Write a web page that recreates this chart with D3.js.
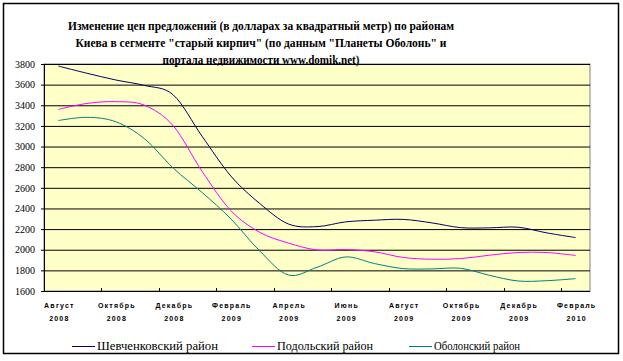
<!DOCTYPE html>
<html>
<head>
<meta charset="utf-8">
<script src="https://cdn.jsdelivr.net/npm/d3@7"></script>
<style>
  body { margin: 0; background: #fff; }
  svg { display: block; }
</style>
</head>
<body>
<div id="chart"></div>
<script>
// monthly categories, Aug 2008 .. Feb 2010
const months = ['Август', 'Сентябрь', 'Октябрь', 'Ноябрь', 'Декабрь', 'Январь', 'Февраль', 'Март', 'Апрель', 'Май',
    'Июнь', 'Июль', 'Август', 'Сентябрь', 'Октябрь', 'Ноябрь', 'Декабрь', 'Январь', 'Февраль'];
const years = ['2008', '2008', '2008', '2008', '2008', '2009', '2009', '2009', '2009', '2009',
    '2009', '2009', '2009', '2009', '2009', '2009', '2009', '2010', '2010'];
const shevchenko = [3780, 3710, 3645, 3592, 3500, 3100, 2715, 2450, 2250, 2224, 2270, 2286, 2294, 2260, 2214, 2212, 2218, 2163, 2118];
const podol = [3360, 3418, 3435, 3400, 3200, 2760, 2380, 2170, 2065, 1998, 2002, 1980, 1925, 1908, 1914, 1947, 1973, 1973, 1944];
const obolon = [3252, 3283, 3240, 3075, 2790, 2555, 2300, 1990, 1755, 1830, 1930, 1866, 1817, 1814, 1820, 1752, 1697, 1700, 1720];
const seriesNames = ['Шевченковский район', 'Подольский район', 'Оболонский район'];
const yTicks = [1600, 1800, 2000, 2200, 2400, 2600, 2800, 3000, 3200, 3400, 3600, 3800];
const titleLines = ['Изменение цен предложений (в долларах за квадратный метр) по районам',
    'Киева в сегменте "старый кирпич" (по данным "Планеты Оболонь" и',
    'портала недвижимости www.domik.net)'];

const w = 623, h = 361;
const pLeft = 44, pRight = 590, pTop = 64, pBottom = 291;
const colors = ['#000066', '#ff00ff', '#008080'];

const svg = d3.select('#chart').append('svg').attr('width', w).attr('height', h);

svg.append('rect').attr('x', 3.5).attr('y', 3.5).attr('width', 615).attr('height', 350)
    .attr('fill', '#fff').attr('stroke', '#000').attr('stroke-width', 1.5);

const xScale = d3.scaleBand().domain(d3.range(months.length)).range([pLeft, pRight]).padding(0);
const yScale = d3.scaleLinear().domain([1600, 3800]).range([pBottom, pTop]);
const cx = i => xScale(i) + xScale.bandwidth() / 2;

svg.append('rect').attr('x', pLeft).attr('y', pTop).attr('width', pRight - pLeft).attr('height', pBottom - pTop)
    .attr('fill', '#ffffc8').attr('stroke', '#808080').attr('stroke-width', 1);

// gridlines + y axis
const yAxis = d3.axisLeft(yScale).tickValues(yTicks).tickSize(-(pRight - pLeft)).tickPadding(8).tickFormat(d3.format('d'));
const gy = svg.append('g').attr('transform', 'translate(' + pLeft + ',0)').call(yAxis);
gy.select('.domain').remove();
gy.selectAll('.tick line').attr('stroke', '#000').attr('x1', -3);
gy.selectAll('.tick text').attr('font-family', '"Liberation Serif", "Times New Roman", serif')
    .attr('font-size', 10).attr('fill', '#000').attr('x', -9);

// x axis
const xAxis = d3.axisBottom(xScale).tickValues(d3.range(0, months.length, 2)).tickSize(0).tickFormat('');
const gx = svg.append('g').attr('transform', 'translate(0,' + pBottom + ')').call(xAxis);
gx.select('.domain').remove();
svg.append('line').attr('x1', pLeft).attr('x2', pRight).attr('y1', pBottom + 0.5).attr('y2', pBottom + 0.5).attr('stroke', '#000');
svg.append('line').attr('x1', pLeft + 0.5).attr('x2', pLeft + 0.5).attr('y1', pTop).attr('y2', pBottom).attr('stroke', '#000');
svg.selectAll('.xtick').data(d3.range(2, months.length, 2)).enter().append('line')
    .attr('x1', d => Math.round(xScale(d)) + 0.5).attr('x2', d => Math.round(xScale(d)) + 0.5)
    .attr('y1', pBottom - 3).attr('y2', pBottom).attr('stroke', '#000');
gx.selectAll('.tick').each(function (d) {
    const t = d3.select(this);
    t.select('text').remove();
    const txt = t.append('text').attr('text-anchor', 'middle').attr('fill', '#000')
        .attr('font-family', '"Liberation Sans", Arial, sans-serif').attr('font-weight', 'bold')
        .attr('font-size', 7).attr('letter-spacing', 1.2);
    txt.append('tspan').attr('x', 1).attr('y', 17).text(months[d]);
    txt.append('tspan').attr('x', 1).attr('y', 30).text(years[d]);
});

// lines
const line = d3.line().x((d, i) => cx(i)).y(d => yScale(d)).curve(d3.curveCardinal.tension(0));
[shevchenko, podol, obolon].forEach((s, k) => {
    svg.append('path').datum(s).attr('d', line).attr('fill', 'none')
        .attr('stroke', colors[k]).attr('stroke-width', 1);
});

// title
const tw = [386, 371, 197];
svg.append('g').selectAll('text').data(titleLines).enter().append('text')
    .attr('x', 261).attr('y', (d, i) => 30 + i * 17).attr('text-anchor', 'middle')
    .attr('font-family', '"Liberation Serif", "Times New Roman", serif').attr('font-weight', 'bold')
    .attr('font-size', 13).attr('textLength', (d, i) => tw[i]).attr('lengthAdjust', 'spacingAndGlyphs')
    .text(d => d);

// legend
const legX = [72, 252, 409];
const legW = [121, 96, 86];
const leg = svg.append('g').selectAll('g').data(seriesNames).enter().append('g')
    .attr('transform', (d, i) => 'translate(' + legX[i] + ',346)');
leg.append('line').attr('x1', 0).attr('x2', 23).attr('y1', 0.5).attr('y2', 0.5).attr('stroke', (d, i) => colors[i]);
leg.append('text').attr('x', 25).attr('y', 4).attr('font-family', '"Liberation Serif", "Times New Roman", serif')
    .attr('font-size', 12).attr('textLength', (d, i) => legW[i]).attr('lengthAdjust', 'spacingAndGlyphs')
    .text(d => d);
</script>
</body>
</html>
